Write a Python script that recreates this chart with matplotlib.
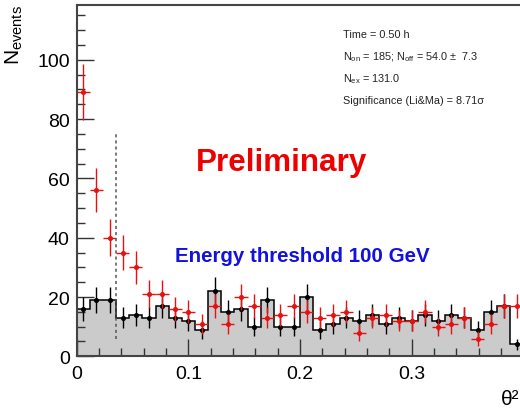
import numpy as np
import matplotlib
matplotlib.use("Agg")
import matplotlib.pyplot as plt

plt.rcParams['font.family'] = ['Liberation Sans', 'DejaVu Sans']
plt.rcParams['mathtext.fontset'] = 'custom'
plt.rcParams['mathtext.rm'] = 'Liberation Sans'
plt.rcParams['mathtext.it'] = 'Liberation Sans:italic'

# theta^2 histogram, 34 bins over [0, 0.4]
n_bins = 34
theta2_max = 0.4
on_counts = [89, 56, 40, 35, 30, 21, 21, 16, 15, 11, 17, 11, 20, 17, 13, 14, 17,
             15, 13, 14, 15, 8, 13, 14, 12, 12, 15, 10, 11, 13, 6, 11, 17, 17]
off_counts = [16, 19, 19, 13, 14, 13, 17, 13, 12, 9, 22, 15, 16, 10, 19, 10, 10,
              20, 9, 11, 13, 12, 14, 11, 13, 12, 14, 12, 14, 13, 9, 15, 17, 4]
theta2_cut = 0.4 * 3 / 34
cut_line_range = [6, 75]
x_ticks = [0, 0.1, 0.2, 0.3]
x_tick_labels = ["0", "0.1", "0.2", "0.3"]
y_ticks = [0, 20, 40, 60, 80, 100]
stats_lines = [
    "Time = 0.50 h",
    r"N$_{\mathrm{on}}$ = 185; N$_{\mathrm{off}}$ = 54.0 ±  7.3",
    r"N$_{\mathrm{ex}}$ = 131.0",
    "Significance (Li&Ma) = 8.71σ",
]

edges = np.linspace(0, theta2_max, n_bins + 1)
centers = 0.5 * (edges[:-1] + edges[1:])
half_w = 0.5 * (edges[1] - edges[0])
on = np.array(on_counts, dtype=float)
off = np.array(off_counts, dtype=float)

W, H = 520, 410
fig = plt.figure(figsize=(W / 100, H / 100), dpi=100)
left = 76.7 / W
bottom = (H - 357.3) / H
top = (H - 6) / H
width = (0.4 * 1117) / W
ax = fig.add_axes([left, bottom, width, top - bottom])

ax.stairs(off, edges, fill=True, facecolor='#cbcbcb', edgecolor='none', zorder=1)
ax.stairs(off, edges, fill=False, edgecolor='black', lw=1.1, baseline=0, zorder=2)
ax.errorbar(centers, off, yerr=np.sqrt(off), fmt='o', color='black', ms=2.6,
            elinewidth=1.0, capsize=0, zorder=3)
ax.errorbar(centers, on, yerr=np.sqrt(on), xerr=half_w, fmt='o', color='#e81010',
            ms=2.6, elinewidth=1.0, capsize=0, zorder=4)
ax.plot([theta2_cut, theta2_cut], cut_line_range, color='#555555', lw=1.1,
        ls=(0, (2, 2)), zorder=5)

ax.set_xlim(0, theta2_max)
ax.set_ylim(0, 118.5)
ax.set_xticks(x_ticks)
ax.set_xticklabels(x_tick_labels)
ax.set_yticks(y_ticks)
ax.set_xticks(np.arange(0, 0.4001, 0.02), minor=True)
ax.set_yticks(np.arange(0, 118, 5), minor=True)
ax.tick_params(axis='both', which='major', direction='in', length=12, width=1.0,
               labelsize=14, pad=5, color='#333333')
ax.tick_params(axis='both', which='minor', direction='in', length=6, width=1.0,
               color='#333333')
ax.tick_params(axis='x', which='major', pad=6)
for s in ax.spines.values():
    s.set_linewidth(1.5)
    s.set_color('#444444')

fig.text(282 / W, 1 - 163 / H, "Preliminary", color='#ee0000', fontsize=22.6,
         fontweight='bold', ha='center', va='center')
fig.text(302.5 / W, 1 - 257 / H, "Energy threshold 100 GeV", color='#1212e0',
         fontsize=14.8, fontweight='bold', ha='center', va='center')
for i, line in enumerate(stats_lines):
    fig.text(343 / W, 1 - (35 + 22 * i) / H, line, fontsize=7.8, ha='left',
             va='center', color='#222222')

fig.text(14 / W, 1 - 5 / H, r"N$_{\mathrm{events}}$", fontsize=15, rotation=90,
         ha='center', va='top')
fig.text(501 / W, 1 - 400 / H, "θ²", fontsize=15, ha='left', va='center')

fig.savefig("out.png", dpi=100)
